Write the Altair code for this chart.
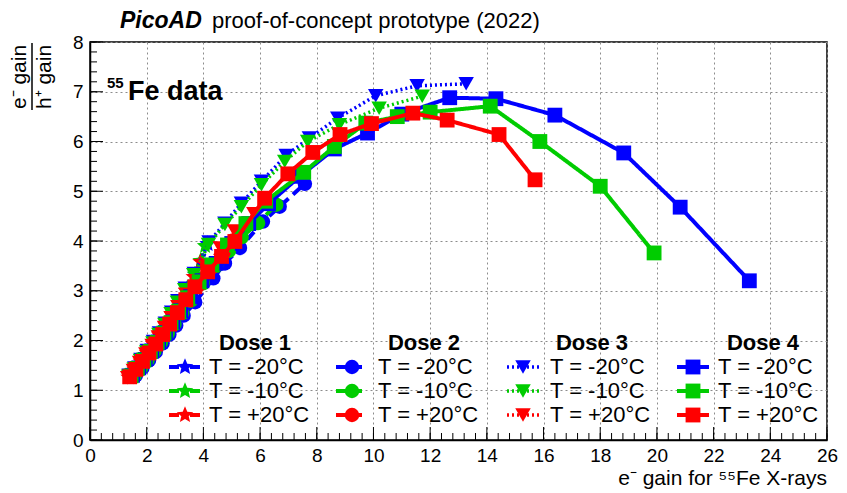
import altair as alt
import pandas as pd
import numpy as np

FONT = "Liberation Sans"
BLUE, GREEN, RED = "#0000ff", "#00cc00", "#ff0000"

# ---------------- data ----------------
# Dose 1 (stars, dash-dot)
d1_m20_x = [1.42, 1.63, 1.85, 2.07, 2.30, 2.52, 2.74, 2.97, 3.20, 3.46, 3.72, 3.95, 4.15]
d1_m20_y = [1.30, 1.46, 1.63, 1.80, 1.98, 2.16, 2.36, 2.57, 2.80, 3.06, 3.32, 3.60, 3.94]
d1_m10_x = [1.40, 1.61, 1.83, 2.05, 2.27, 2.49, 2.71, 2.94, 3.17, 3.43, 3.70, 3.90, 4.06]
d1_m10_y = [1.29, 1.45, 1.62, 1.79, 1.97, 2.15, 2.35, 2.56, 2.79, 3.05, 3.33, 3.60, 3.90]
d1_p20_x = [1.36, 1.57, 1.79, 2.01, 2.23, 2.45, 2.67, 2.90, 3.13, 3.39, 3.66, 3.90]
d1_p20_y = [1.26, 1.42, 1.58, 1.75, 1.93, 2.11, 2.31, 2.52, 2.75, 3.00, 3.28, 3.58]
# Dose 2 (circles, dashed)
d2_m20_x = [1.62, 1.85, 2.08, 2.32, 2.56, 2.80, 3.04, 3.30, 3.71, 4.35, 4.76, 5.29, 6.10, 6.69, 7.58]
d2_m20_y = [1.30, 1.45, 1.60, 1.77, 1.94, 2.12, 2.30, 2.50, 2.77, 3.25, 3.55, 3.86, 4.39, 4.69, 5.15]
d2_m10_x = [1.58, 1.80, 2.03, 2.27, 2.50, 2.74, 2.98, 3.25, 3.55, 3.98, 4.45, 4.90, 5.35, 5.93, 6.57]
d2_m10_y = [1.30, 1.45, 1.61, 1.78, 1.96, 2.14, 2.33, 2.55, 2.80, 3.15, 3.50, 3.80, 4.08, 4.36, 4.73]
d2_p20_x = [1.50, 1.72, 1.95, 2.18, 2.42, 2.66, 2.90, 3.17, 3.47, 3.85, 4.28, 4.70, 5.10]
d2_p20_y = [1.28, 1.43, 1.59, 1.76, 1.94, 2.13, 2.33, 2.56, 2.82, 3.12, 3.46, 3.76, 4.02]
# Dose 3 (down triangles, dotted)
d3_m20_x = [1.38, 1.58, 1.80, 2.02, 2.24, 2.45, 2.66, 2.88, 3.10, 3.36, 3.68, 4.20, 4.76, 5.34, 6.05, 6.92, 7.74, 8.74, 10.08, 11.54, 13.27]
d3_m20_y = [1.30, 1.45, 1.62, 1.80, 1.98, 2.15, 2.35, 2.57, 2.80, 3.05, 3.35, 3.98, 4.36, 4.76, 5.20, 5.72, 6.07, 6.47, 6.92, 7.12, 7.16]
d3_m10_x = [1.36, 1.56, 1.78, 2.00, 2.22, 2.43, 2.64, 2.86, 3.08, 3.34, 3.66, 4.18, 4.76, 5.34, 6.05, 6.87, 7.68, 8.80, 10.20, 11.72]
d3_m10_y = [1.28, 1.43, 1.60, 1.77, 1.95, 2.12, 2.32, 2.54, 2.77, 3.02, 3.32, 3.93, 4.33, 4.69, 5.13, 5.60, 6.00, 6.34, 6.67, 6.91]
d3_p20_x = [1.33, 1.53, 1.75, 1.97, 2.19, 2.41, 2.63, 2.86, 3.10, 3.38, 3.72, 4.12, 4.60, 5.10, 5.78]
d3_p20_y = [1.25, 1.40, 1.56, 1.73, 1.90, 2.07, 2.26, 2.46, 2.68, 2.93, 3.20, 3.50, 3.86, 4.20, 4.55]
# Dose 4 (squares, solid)
d4_m20_x = [1.50, 1.72, 1.95, 2.18, 2.42, 2.66, 2.92, 3.20, 3.55, 3.95, 4.45, 5.00, 5.60, 6.30, 7.40, 8.62, 9.79, 11.00, 12.69, 14.32, 16.40, 18.83, 20.82, 23.26]
d4_m20_y = [1.30, 1.45, 1.62, 1.79, 1.97, 2.16, 2.37, 2.60, 2.88, 3.20, 3.55, 3.95, 4.35, 4.75, 5.30, 5.85, 6.17, 6.55, 6.88, 6.86, 6.53, 5.77, 4.68, 3.20]
d4_m10_x = [1.45, 1.67, 1.90, 2.13, 2.37, 2.61, 2.86, 3.13, 3.45, 3.85, 4.30, 4.85, 5.50, 6.20, 7.54, 8.62, 9.73, 10.84, 12.00, 14.12, 15.87, 18.00, 19.90]
d4_m10_y = [1.29, 1.44, 1.61, 1.78, 1.96, 2.15, 2.36, 2.59, 2.86, 3.18, 3.52, 3.92, 4.35, 4.80, 5.38, 5.90, 6.37, 6.50, 6.59, 6.71, 6.00, 5.10, 3.76]
d4_p20_x = [1.40, 1.62, 1.85, 2.08, 2.32, 2.56, 2.81, 3.08, 3.38, 3.70, 4.15, 4.64, 5.11, 6.16, 6.98, 7.86, 8.82, 9.93, 11.39, 12.60, 14.43, 15.70]
d4_p20_y = [1.27, 1.42, 1.58, 1.75, 1.93, 2.12, 2.33, 2.56, 2.82, 3.08, 3.38, 3.69, 3.99, 4.86, 5.35, 5.78, 6.14, 6.36, 6.57, 6.43, 6.14, 5.23]

doses = ["Dose 1", "Dose 2", "Dose 3", "Dose 4"]
temps = ["T = -20°C", "T = -10°C", "T = +20°C"]
temp_colors = [BLUE, GREEN, RED]
series_xy = [
    [(d1_m20_x, d1_m20_y), (d1_m10_x, d1_m10_y), (d1_p20_x, d1_p20_y)],
    [(d2_m20_x, d2_m20_y), (d2_m10_x, d2_m10_y), (d2_p20_x, d2_p20_y)],
    [(d3_m20_x, d3_m20_y), (d3_m10_x, d3_m10_y), (d3_p20_x, d3_p20_y)],
    [(d4_m20_x, d4_m20_y), (d4_m10_x, d4_m10_y), (d4_p20_x, d4_p20_y)],
]

x_major = list(range(0, 27, 2))
y_major = list(range(0, 9, 1))

# ---------------- styles ----------------
ang = [-np.pi / 2 + k * np.pi / 5 for k in range(10)]
rad = [1.0 if k % 2 == 0 else 0.45 for k in range(10)]
STAR = "M" + " L".join(f"{r*np.cos(a):.3f},{r*np.sin(a):.3f}" for r, a in zip(rad, ang)) + " Z"

dose_style = [
    dict(shape=STAR, size=300, dash=[10, 4, 3, 4], sw=4),
    dict(shape="circle", size=210, dash=[10, 6], sw=4),
    dict(shape="triangle-down", size=240, dash=[2, 3], sw=3.5),
    dict(shape="square", size=220, dash=[1, 0], sw=4),
]

W, H = 737, 398
xs = alt.Scale(domain=[0, 26], nice=False, zero=False)
ys = alt.Scale(domain=[0, 8], nice=False, zero=False)

GRID = dict(grid=True, gridColor="#8c8c8c", gridDash=[2, 3], gridWidth=1,
            ticks=False, domain=True, domainColor="black", domainWidth=1.5,
            labelFont=FONT, labelFontSize=19, labelColor="black", title=None,
            labelFlush=False)
xaxis = alt.Axis(values=x_major, labelPadding=6, **GRID)
yaxis = alt.Axis(values=y_major, labelPadding=7, **GRID)

def X(f):
    return alt.X(f, type="quantitative", scale=xs, axis=xaxis)

def Y(f):
    return alt.Y(f, type="quantitative", scale=ys, axis=yaxis)

layers = []

# axis ticks drawn inward
xt_major = pd.DataFrame({"v": x_major})
xt_minor = pd.DataFrame({"v": [round(v, 2) for v in np.arange(0, 26.001, 0.4)]})
yt_major = pd.DataFrame({"v": y_major})
yt_minor = pd.DataFrame({"v": [round(v, 2) for v in np.arange(0, 8.001, 0.2)]})

layers.append(alt.Chart(xt_major).mark_rule(color="black", strokeWidth=1).encode(
    x=X("v"), y=alt.value(H), y2=alt.value(H - 13)))
layers.append(alt.Chart(xt_minor).mark_rule(color="black", strokeWidth=1).encode(
    x=X("v"), y=alt.value(H), y2=alt.value(H - 7)))
layers.append(alt.Chart(yt_major).mark_rule(color="black", strokeWidth=1).encode(
    y=Y("v"), x=alt.value(0), x2=alt.value(13)))
layers.append(alt.Chart(yt_minor).mark_rule(color="black", strokeWidth=1).encode(
    y=Y("v"), x=alt.value(0), x2=alt.value(7)))

# data series
for di, dose in enumerate(doses):
    st = dose_style[di]
    for ti, col in enumerate(temp_colors):
        xv, yv = series_xy[di][ti]
        df = pd.DataFrame({"x": xv, "y": yv, "i": list(range(len(xv)))})
        layers.append(alt.Chart(df).mark_line(color=col, strokeWidth=st["sw"],
                                              strokeDash=st["dash"]).encode(
            x=X("x"), y=Y("y"), order="i:Q"))
        layers.append(alt.Chart(df).mark_point(shape=st["shape"], size=st["size"], filled=True,
                                               opacity=1, color=col).encode(x=X("x"), y=Y("y")))

one = pd.DataFrame({"a": [0]})

def txt(s, x, y, size, weight="normal", style="normal", align="left", baseline="alphabetic", angle=0):
    kw = dict(align=align, baseline=baseline, font=FONT, fontSize=size, fontWeight=weight,
              fontStyle=style, color="black")
    if angle:
        kw["angle"] = angle
    return alt.Chart(one).mark_text(**kw).encode(x=alt.value(x), y=alt.value(y), text=alt.value(s))

# legend
sym_x = [95, 262, 433, 603]
text_x = [119, 288, 460, 628]
head_x = [165, 334, 502, 673]
head_y = 301
row_y = [325, 349, 373]
for di, dose in enumerate(doses):
    st = dose_style[di]
    layers.append(txt(dose, head_x[di], head_y, 22, weight="bold", align="center", baseline="middle"))
    for ti, col in enumerate(temp_colors):
        layers.append(alt.Chart(one).mark_rule(color=col, strokeWidth=st["sw"], strokeDash=st["dash"]).encode(
            x=alt.value(sym_x[di] - 16), x2=alt.value(sym_x[di] + 16), y=alt.value(row_y[ti])))
        layers.append(alt.Chart(one).mark_point(shape=st["shape"], size=st["size"], filled=True,
                                                opacity=1, color=col).encode(
            x=alt.value(sym_x[di]), y=alt.value(row_y[ti])))
        layers.append(txt(temps[ti], text_x[di], row_y[ti], 22, baseline="middle"))

# title
layers.append(txt("PicoAD", 30, -14, 23, weight="bold", style="italic"))
layers.append(txt("proof-of-concept prototype (2022)", 122, -14, 22))
# 55Fe data label
layers.append(txt("55", 17, 46, 15, weight="bold"))
layers.append(txt("Fe data", 38, 58, 27, weight="bold"))
# x title
layers.append(txt("e⁻ gain for ⁵⁵Fe X-rays", W, 443, 21, align="right"))
# y title (fraction)
layers.append(txt("e⁻ gain", -70, 35, 21, align="center", baseline="middle", angle=270))
layers.append(txt("h⁺ gain", -45, 35, 21, align="center", baseline="middle", angle=270))
layers.append(alt.Chart(one).mark_rule(color="black", strokeWidth=1.5).encode(
    x=alt.value(-58), y=alt.value(1), y2=alt.value(68)))

chart = alt.layer(*layers).properties(
    width=W, height=H,
    padding={"left": 82, "top": 34, "right": 12, "bottom": 50},
    autosize=alt.AutoSizeParams(type="none"),
).configure_view(stroke="black", strokeWidth=1.5)

chart.save("out.html", embed_options={"renderer": "svg", "actions": False})
